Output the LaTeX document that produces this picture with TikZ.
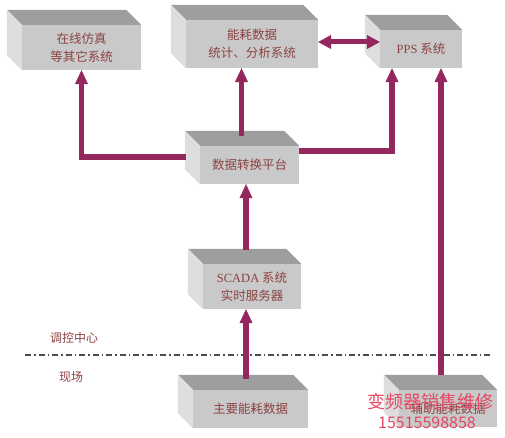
\documentclass[tikz,border=0pt]{standalone}
\usepackage{fontspec}
\setmainfont{Liberation Serif}
\newfontfamily\cjk{Noto Sans CJK SC}
\usetikzlibrary{calc, arrows.meta}
\definecolor{frontgray}{RGB}{201,201,201}
\definecolor{topgray}{RGB}{158,158,158}
\definecolor{sidegray}{RGB}{222,222,222}
\definecolor{flowred}{RGB}{148,40,94}
\definecolor{labelbrown}{RGB}{140,66,66}
\definecolor{markred}{RGB}{228,72,100}

% top and left faces behind a box node
\newcommand{\boxdepth}[1]{%
	\fill[topgray] (#1.north west) -- ++(-15pt,15pt) -- ($(#1.north east)+(-15pt,15pt)$) -- (#1.north east) -- cycle;
	\fill[sidegray] (#1.north west) -- ++(-15pt,15pt) -- ($(#1.south west)+(-15pt,15pt)$) -- (#1.south west) -- cycle;}

\begin{document}
\begin{tikzpicture}[x=1pt, y=-1pt]
			\tikzstyle{box}=[
			fill=frontgray,
			inner sep=0pt,
			align=center,
			text=labelbrown,
			font=\cjk\fontsize{12.5}{18}\selectfont]
			\tikzstyle{zone}=[
			text=labelbrown,
			font=\cjk\fontsize{12}{14}\selectfont]
			\tikzstyle{flow}=[
			draw=flowred,
			line width=5.5pt,
			-{Triangle[length=14pt, width=13pt, line width=0.5pt]}]
			\tikzstyle{both}=[
			draw=flowred,
			line width=5pt,
			{Triangle[length=13pt, width=14pt, line width=0.5pt]}-{Triangle[length=13pt, width=14pt, line width=0.5pt]}]
			\useasboundingbox (0,0) rectangle (505,438);
			%
			\node[box, minimum width=119pt, minimum height=45pt] (sim) at (81.5,47.5) {在线仿真\\等其它系统};
			\node[box, minimum width=132pt, minimum height=48pt] (stat) at (252,44) {能耗数据\\统计、分析系统};
			\node[box, minimum width=82pt, minimum height=38pt] (pps) at (421,49) {{\rmfamily PPS} 系统};
			\node[box, minimum width=99pt, minimum height=38pt] (conv) at (249.5,165) {数据转换平台};
			\node[box, minimum width=98pt, minimum height=45pt] (scada) at (252,286.5) {{\rmfamily SCADA} 系统\\实时服务器};
			\node[box, minimum width=115pt, minimum height=38pt] (main) at (250.5,409) {主要能耗数据};
			\node[box, minimum width=98pt, minimum height=37pt] (aux) at (448,408.5) {辅助能耗数据};
			\foreach \b in {sim, stat, pps, conv, scada, main, aux}
				\boxdepth{\b};
			%
			\draw[gray!60!black, line width=1.2pt, dash pattern=on 6pt off 3pt on 1.5pt off 3pt] (25,355) -- (492,355);
			\node[zone] (ctrl) at (74,338) {调控中心};
			\node[zone] (field) at (71,377) {现场};
			%
			\draw[flow] ([xshift=-14pt,yshift=8pt]conv.west) -| (sim.south);
			\draw[flow] ([xshift=-8pt,yshift=10pt]conv.north) -- ([xshift=-8pt]conv.north |- stat.south);
			\draw[flow] ([yshift=14pt]conv.east) -| ([xshift=-29pt]pps.south);
			\draw[both] ([yshift=2pt]stat.east) -- ([yshift=2pt]stat.east -| pps.west);
			\draw[flow] ([xshift=-6pt,yshift=14pt]scada.north) -- ([xshift=-6pt]scada.north |- conv.south);
			\draw[flow] ([xshift=-4.5pt,yshift=11pt]main.north) -- ([xshift=-4.5pt]main.north |- scada.south);
			\draw[flow] ([xshift=-7pt,yshift=15pt]aux.north) -- ([xshift=-7pt]aux.north |- pps.south);
			%
			\node[text=markred, font=\cjk\fontsize{18}{20}\selectfont] (wm) at (430,402) {变频器销售维修};
			\node[text=markred, font=\cjk\fontsize{16}{18}\selectfont] (tel) at (427,423) {15515598858};
		\end{tikzpicture}
\end{document}
